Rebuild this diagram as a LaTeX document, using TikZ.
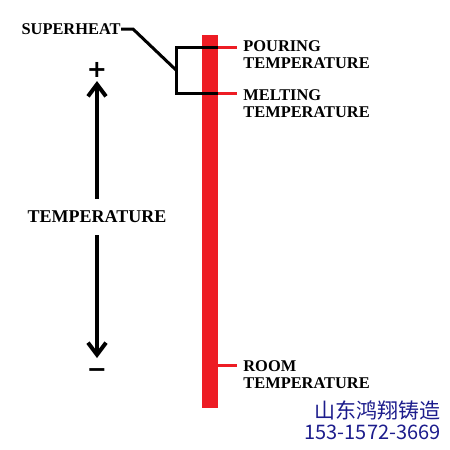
\documentclass[tikz,border=0pt]{standalone}
\usepackage{fontspec}
\setmainfont{Liberation Serif}
\newfontfamily\cjk{Noto Sans CJK SC}
\newfontfamily\signfont{DejaVu Sans}
\usetikzlibrary{arrows.meta}
\definecolor{barred}{RGB}{237,28,36}
\definecolor{logoblue}{RGB}{28,28,140}
\tikzset{
  lbl/.style={font=\bfseries\fontsize{8.2}{8.5}\selectfont, align=left, inner sep=0pt},
  sign/.style={font=\signfont\bfseries\fontsize{12}{12}\selectfont, inner sep=0pt},
  tick/.style={barred, line width=1.5pt},
  brk/.style={black, line width=1.5pt},
  bigarrow/.style={line width=2pt, {Straight Barb[length=6pt,width=9pt]}-{Straight Barb[length=6pt,width=9pt]}}
}
\begin{document}
\begin{tikzpicture}[x=0.5pt,y=-0.5pt]
  \useasboundingbox (0,0) rectangle (450,450);
  % the bar
  \fill[barred] (202,35) rectangle (218,408);
  % labels on the right
  \node[lbl, anchor=west] (pour) at (243,55) {POURING\\TEMPERATURE};
  \node[lbl, anchor=west] (melt) at (243,104) {MELTING\\TEMPERATURE};
  \node[lbl, anchor=west] (room) at (243,375) {ROOM\\TEMPERATURE};
  \coordinate (pourtick) at (218,47);
  \coordinate (melttick) at (218,93);
  \coordinate (roomtick) at (218,365);
  \draw[tick] (pourtick) -- ++(19,0);
  \draw[tick] (melttick) -- ++(19,0);
  \draw[tick] (roomtick) -- ++(19,0);
  % superheat bracket
  \node[lbl, anchor=east] (sup) at (121,29) {SUPERHEAT};
  \draw[brk] (pourtick) -- (176,47) -- (176,93) -- (melttick);
  \draw[brk] (sup.east) -- ++(12,0) -- (176,70);
  % temperature arrow
  \node[sign] (plus) at (97,70) {+};
  \node[sign] (minus) at (97,373) {−};
  \draw[bigarrow] (97,81) -- (97,358);
  \node[lbl, fill=white, inner xsep=1pt, inner ysep=6pt, font=\bfseries\fontsize{9}{9}\selectfont] (temp) at (97,217) {TEMPERATURE};
  % maker
  \node[text=logoblue, font=\cjk\fontsize{10.5}{11}\selectfont, anchor=east, inner sep=0pt] (maker) at (441,410) {山东鸿翔铸造};
  \node[text=logoblue, font=\cjk\fontsize{10}{11}\selectfont, anchor=east, inner sep=0pt] (phone) at (441,432) {153-1572-3669};
\end{tikzpicture}
\end{document}
